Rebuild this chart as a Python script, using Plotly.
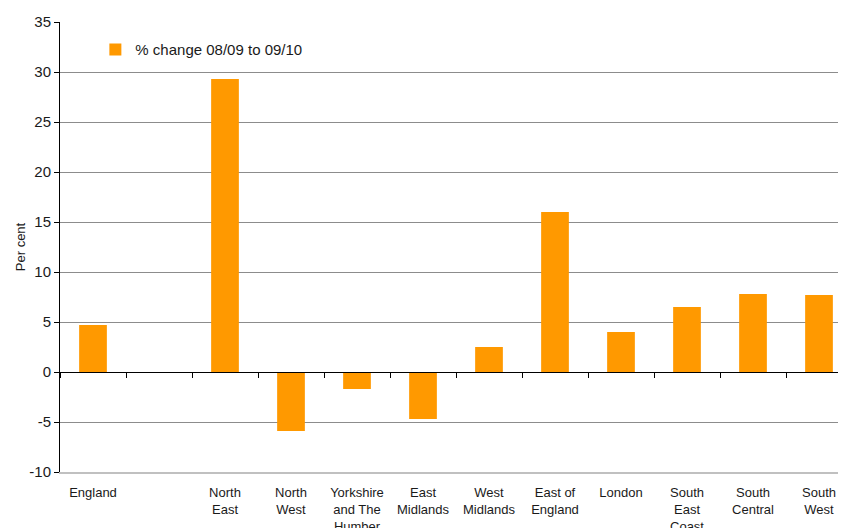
import plotly.graph_objects as go

categories = ["England", "blank", "North East", "North West", "Yorkshire and The Humber",
              "East Midlands", "West Midlands", "East of England", "London",
              "South East Coast", "South Central", "South West"]
tick_labels = ["England", "", "North<br>East", "North<br>West", "Yorkshire<br>and The<br>Humber",
               "East<br>Midlands", "West<br>Midlands", "East of<br>England", "London",
               "South<br>East<br>Coast", "South<br>Central", "South<br>West"]
pct_change = [4.7, None, 29.3, -5.9, -1.7, -4.7, 2.5, 16.0, 4.0, 6.5, 7.8, 7.7]
series_name = "% change 08/09 to 09/10"
y_ticks = [-10, -5, 0, 5, 10, 15, 20, 25, 30, 35]
y_tick_labels = ["-10", "-5", "0", "5", "10", "15", "20", "25", "30", "35"]

FONT = "Liberation Sans, Arial, sans-serif"

fig = go.Figure()
fig.add_trace(go.Bar(
    x=categories, y=pct_change, name=series_name,
    marker=dict(color="#FF9900", line=dict(width=0)),
    width=0.42,
))
# helper trace so the zero-crossing axis (with boundary ticks) is rendered
fig.add_trace(go.Scatter(
    x=categories, y=[0] * len(categories), xaxis="x2", mode="markers",
    marker=dict(opacity=0, size=1), showlegend=False, hoverinfo="skip",
))

xr = [-0.5, -0.5 + (846 - 60) / 66.0]

fig.update_layout(
    width=838, height=520,
    margin=dict(l=52, r=0, t=14, b=56, autoexpand=False),
    paper_bgcolor="white", plot_bgcolor="white",
    font=dict(family=FONT, color="#1a1a1a"),
    showlegend=True,
    legend=dict(x=0.045, y=0.975, xanchor="left", yanchor="top",
                font=dict(size=15, family=FONT, color="#1a1a1a"),
                bgcolor="rgba(0,0,0,0)"),
    xaxis=dict(
        type="category", categoryorder="array", categoryarray=categories,
        tickvals=categories, ticktext=tick_labels,
        range=xr, showgrid=False, zeroline=False, automargin=False,
        showline=True, linecolor="#c0c0c0", linewidth=1.5,
        ticks="", tickfont=dict(size=13, family=FONT, color="#1a1a1a"),
        ticklabelstandoff=8,
    ),
    xaxis2=dict(
        type="category", categoryorder="array", categoryarray=categories,
        overlaying="x", anchor="free", position=10 / 45, range=xr,
        showticklabels=False, showgrid=False, zeroline=False, automargin=False,
        showline=True, linecolor="black", linewidth=1,
        ticks="outside", tickson="boundaries", ticklen=5, tickcolor="black",
    ),
    yaxis=dict(
        range=[-10, 35], tickvals=y_ticks, ticktext=y_tick_labels,
        showgrid=True, gridcolor="#8c8c8c", gridwidth=1,
        zeroline=False, automargin=False,
        showline=True, linecolor="black", linewidth=1,
        ticks="outside", ticklen=5, tickcolor="black",
        tickfont=dict(size=15, family=FONT, color="#1a1a1a"),
        title=dict(text="Per cent", font=dict(size=13, family=FONT, color="#1a1a1a"),
                   standoff=0),
    ),
)

fig.write_html("out.html")
